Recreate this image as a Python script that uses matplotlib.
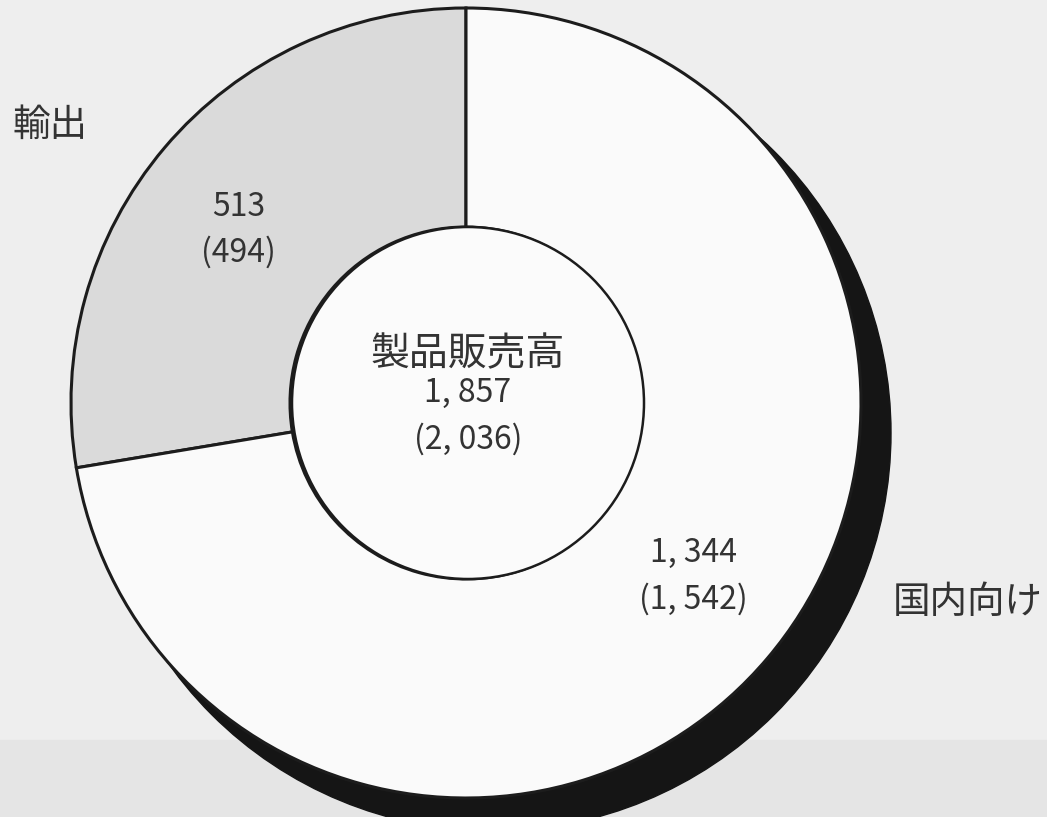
import numpy as np
import matplotlib
matplotlib.use("Agg")
import matplotlib.pyplot as plt
from matplotlib.patches import Circle

plt.rcParams['font.family'] = ['Noto Sans CJK JP', 'DejaVu Sans']

# data (百万円), previous year in brackets
labels = ['輸出', '国内向け']
values = [513, 1344]
values_prev = [494, 1542]
center_title = '製品販売高'
total = 1857
total_prev = 2036


def fmt(v):
    # typeset style of the source: "1, 344"
    return '{:,}'.format(v).replace(',', ', ')


def two_lines(ax, x, y, v, p, gap=23, size=23):
    ax.text(x, y + gap, fmt(v), ha='center', va='center',
            fontsize=size, color='#333333', zorder=4)
    ax.text(x, y - gap, '(' + fmt(p) + ')', ha='center', va='center',
            fontsize=size, color='#333333', zorder=4)


def main():
    fig = plt.figure(figsize=(10.47, 8.17), dpi=100)
    fig.patch.set_facecolor('#eeeeee')
    ax = fig.add_axes([0, 0, 1, 1])

    cx, cy = 466, 414
    R = 395
    r_in = 176

    # darker strip along the bottom of the scanned page
    ax.axhspan(0, 77, color='#e5e5e5', zorder=0)

    # black drop shadow behind the ring
    ax.add_patch(Circle((cx + 27, cy - 30), R + 3, color='#151515', zorder=1))

    wedges, _ = ax.pie(values, colors=['#dadada', '#fafafa'], startangle=90,
                       counterclock=True, radius=R, center=(cx, cy),
                       wedgeprops=dict(width=R - r_in, edgecolor='#1c1c1c',
                                       linewidth=2.2))
    for w in wedges:
        w.set_zorder(2)

    ax.add_patch(Circle((cx + 2, cy), r_in, facecolor='#fbfbfb',
                        edgecolor='#1c1c1c', linewidth=1.8, zorder=3))

    # values inside the ring at the middle of each wedge
    for w, v, p in zip(wedges, values, values_prev):
        mid = np.deg2rad((w.theta1 + w.theta2) / 2 + 3)
        x = cx + 286 * np.cos(mid)
        y = cy + 286 * np.sin(mid)
        two_lines(ax, x, y, v, p)

    ax.text(cx + 2, cy + 49, center_title, ha='center', va='center',
            fontsize=28, color='#333333', zorder=4)
    two_lines(ax, cx + 2, cy - 13, total, total_prev)

    # outside category labels
    ax.text(13, 817 - 125, labels[0], ha='left', va='center',
            fontsize=27, color='#333333', zorder=4)
    ax.text(893, 817 - 602, labels[1], ha='left', va='center',
            fontsize=27, color='#333333', zorder=4)

    ax.set_xlim(0, 1047)
    ax.set_ylim(0, 817)
    ax.axis('off')

    fig.savefig('out.png', dpi=100, facecolor=fig.get_facecolor())


main()
